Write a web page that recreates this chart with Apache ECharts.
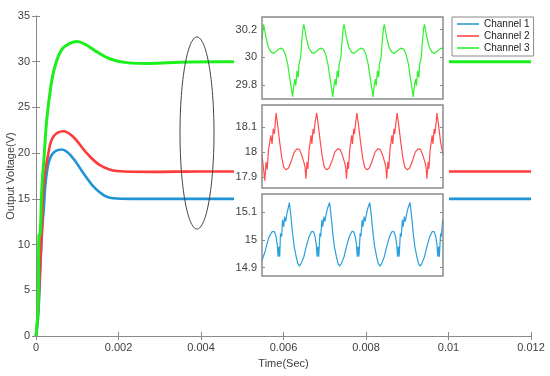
<!DOCTYPE html>
<html>
<head>
<meta charset="utf-8">
<script src="https://cdn.jsdelivr.net/npm/echarts@6/dist/echarts.min.js"></script>
<style>
html,body{margin:0;padding:0;background:#fff;}
#chart{width:550px;height:376px;}
</style>
</head>
<body>
<div id="chart"></div>
<script>
// ---------- DATA ----------
const channelNames = ['Channel 1', 'Channel 2', 'Channel 3'];
const xTickValues = [0, 0.002, 0.004, 0.006, 0.008, 0.01, 0.012];
const yTickValues = [0, 5, 10, 15, 20, 25, 30, 35];
const ch3ZoomTicks = [29.8, 30, 30.2];
const ch2ZoomTicks = [17.9, 18, 18.1];
const ch1ZoomTicks = [14.9, 15, 15.1];

// main response [time (s), voltage (V)]
const ch1Main = [[0,0],[0.00005,2],[0.0001,6.9],[0.00014,10.9],[0.00019,14.1],[0.00026,17.8],[0.00038,19.8],[0.00062,20.4],[0.00087,19.6],[0.00115,17.8],[0.00147,16],[0.00187,15.06],[0.0023,15.0],[0.0035,15.0],[0.012,15.0]];
const ch2Main = [[0,0],[0.00005,2.8],[0.0001,7.6],[0.00014,11.2],[0.00019,16.7],[0.0003,20],[0.00042,21.8],[0.00066,22.4],[0.0009,21.8],[0.00123,20],[0.00155,18.7],[0.00196,18.05],[0.0028,17.95],[0.004,18],[0.012,18]];
const ch3Main = [[0,0],[0.00005,3.2],[0.00007,11],[0.0001,11.2],[0.00014,16],[0.00019,19.2],[0.00026,23.6],[0.00036,27.3],[0.00046,29.5],[0.00062,31.3],[0.00082,32.0],[0.001,32.2],[0.00123,31.8],[0.00147,31.1],[0.0018,30.3],[0.0022,29.9],[0.00276,29.8],[0.0035,29.95],[0.0045,30.0],[0.012,30.0]];

// zoomed steady-state ripple [time (us), voltage (V)]
const ch3Zoom = [[0,30.13],
[4,30.238],[10,30.143],[16,30.071],[23,30.036],[29,30.029],[37,30.048],[45,30.067],[52,30.060],[58,30.024],[64,29.952],[68,29.869],[72,29.798],[76,29.719],[79,29.798],[82,29.845],[84,29.798],[87,29.905],[90,29.857],[92,29.952],[96,30.0],[99,30.119],[102,30.21],
[104,30.238],[110,30.143],[116,30.071],[123,30.036],[129,30.029],[137,30.048],[145,30.067],[152,30.060],[158,30.024],[164,29.952],[168,29.869],[172,29.798],[176,29.716],[179,29.798],[182,29.845],[184,29.798],[187,29.905],[190,29.857],[192,29.952],[196,30.0],[199,30.119],[202,30.21],
[204,30.238],[210,30.143],[216,30.071],[223,30.036],[229,30.029],[237,30.048],[245,30.067],[252,30.060],[258,30.024],[264,29.952],[268,29.869],[272,29.798],[276,29.716],[279,29.798],[282,29.845],[284,29.798],[287,29.905],[290,29.857],[292,29.952],[296,30.0],[299,30.119],[302,30.21],
[304,30.238],[310,30.143],[316,30.071],[323,30.036],[329,30.029],[337,30.048],[345,30.067],[352,30.060],[358,30.024],[364,29.952],[368,29.869],[372,29.798],[376,29.716],[379,29.798],[382,29.845],[384,29.798],[387,29.905],[390,29.857],[392,29.952],[396,30.0],[399,30.119],[402,30.21],
[404,30.238],[410,30.143],[416,30.071],[423,30.036],[429,30.029],[437,30.048],[445,30.067],[450,30.062]];

const ch2Zoom = [[0,17.99],[4,17.93],[7,17.885],[10,17.96],[13,17.93],[16,18.007],[19,18.0],[22,18.067],[25,18.033],[28,18.093],[31,18.073],[33,18.12],
[35,18.157],[39,18.107],[44,18.04],[49,17.98],[54,17.94],[60,17.929],[66,17.936],[72,17.96],[80,18.0],[87,18.013],[93,18.011],[99,17.987],[104,17.96],[107,17.94],[109,17.893],[112,17.96],[114,17.933],[117,18.007],[119,18.0],[122,18.067],[124,18.033],[127,18.093],[129,18.073],[132,18.12],
[136,18.157],[140,18.107],[145,18.04],[150,17.98],[155,17.94],[161,17.929],[167,17.936],[173,17.96],[181,18.0],[188,18.013],[194,18.011],[200,17.987],[205,17.96],[208,17.94],[210,17.893],[213,17.96],[215,17.933],[218,18.007],[220,18.0],[223,18.067],[225,18.033],[228,18.093],[230,18.073],[233,18.12],
[236,18.157],[240,18.107],[245,18.04],[250,17.98],[255,17.94],[261,17.929],[267,17.936],[273,17.96],[281,18.0],[288,18.013],[294,18.011],[300,17.987],[305,17.96],[308,17.94],[310,17.893],[313,17.96],[315,17.933],[318,18.007],[320,18.0],[323,18.067],[325,18.033],[328,18.093],[330,18.073],[333,18.12],
[336,18.157],[340,18.107],[345,18.04],[350,17.98],[355,17.94],[361,17.929],[367,17.936],[373,17.96],[381,18.0],[388,18.013],[394,18.011],[400,17.987],[405,17.96],[408,17.94],[410,17.893],[413,17.96],[415,17.933],[418,18.007],[420,18.0],[423,18.067],[425,18.033],[428,18.093],[430,18.073],[433,18.12],
[435,18.157],[439,18.107],[444,18.04],[450,17.99]];

const ch1Zoom = [[0,14.925],[8,14.96],[16,15.006],[25,15.03],[31,15.03],[35,15.012],[38,14.982],[40,14.939],[42,14.976],[44,14.939],[46,15.024],[49,15.012],[51,15.073],[54,15.048],[56,15.085],[59,15.067],[62,15.097],[65,15.115],
[68,15.136],[72,15.085],[76,15.024],[80,14.976],[85,14.939],[89,14.915],[93,14.905],[97,14.913],[104,14.939],[110,14.976],[117,15.012],[123,15.03],[128,15.03],[132,15.012],[135,14.982],[137,14.939],[139,14.976],[141,14.939],[144,15.024],[146,15.012],[149,15.073],[151,15.048],[154,15.085],[156,15.067],[160,15.097],[163,15.115],
[168,15.136],[172,15.085],[176,15.024],[180,14.976],[185,14.939],[189,14.915],[193,14.905],[197,14.913],[204,14.939],[210,14.976],[217,15.012],[223,15.03],[228,15.03],[232,15.012],[235,14.982],[237,14.939],[239,14.976],[241,14.939],[244,15.024],[246,15.012],[249,15.073],[251,15.048],[254,15.085],[256,15.067],[260,15.097],[263,15.115],
[268,15.136],[272,15.085],[276,15.024],[280,14.976],[285,14.939],[289,14.915],[293,14.905],[297,14.913],[304,14.939],[310,14.976],[317,15.012],[323,15.03],[328,15.03],[332,15.012],[335,14.982],[337,14.939],[339,14.976],[341,14.939],[344,15.024],[346,15.012],[349,15.073],[351,15.048],[354,15.085],[356,15.067],[360,15.097],[363,15.115],
[368,15.136],[372,15.085],[376,15.024],[380,14.976],[385,14.939],[389,14.915],[393,14.905],[397,14.913],[404,14.939],[410,14.976],[417,15.012],[423,15.03],[428,15.03],[432,15.012],[435,14.982],[437,14.939],[439,14.976],[441,14.939],[444,15.024],[446,15.012],[449,15.073],[450,15.06]];

// ---------- STYLE / LAYOUT ----------
const FONT = '"Liberation Sans", Arial, Helvetica, sans-serif';
const AX = '#8a8a8a';
const TXT = '#404040';
const colBlue = '#1f93d4', colRed = '#ff3a3a', colGreen = '#1cf01c';
const colBlueZ = '#2aa0dc', colRedZ = '#ff4c4c', colGreenZ = '#2ef22e';

const main = {left: 36, top: 16, width: 495, height: 320};
const insets = [
  {left: 262, top: 17, width: 181, height: 82, min: 29.702, max: 30.29, ticks: ch3ZoomTicks, data: ch3Zoom, color: colGreenZ},
  {left: 262, top: 105, width: 181, height: 83, min: 17.856, max: 18.189, ticks: ch2ZoomTicks, data: ch2Zoom, color: colRedZ},
  {left: 262, top: 194, width: 181, height: 82, min: 14.869, max: 15.167, ticks: ch1ZoomTicks, data: ch1Zoom, color: colBlueZ}
];

const grids = [main].concat(insets).map(g => ({left: g.left, top: g.top, width: g.width, height: g.height, containLabel: false, outerBoundsMode: 'none'}));

const xAxes = [
  {gridIndex: 0, type: 'value', min: 0, max: 0.012, position: 'bottom',
   name: 'Time(Sec)', nameLocation: 'middle', nameGap: 22, nameMoveOverlap: false,
   nameTextStyle: {fontFamily: FONT, fontSize: 11, color: TXT},
   axisLine: {show: true, lineStyle: {color: AX, width: 1}},
   axisTick: {show: true, inside: true, length: 4, customValues: xTickValues, lineStyle: {color: AX}},
   axisLabel: {customValues: xTickValues, fontFamily: FONT, fontSize: 11, color: TXT, margin: 6, formatter: v => String(+(+v).toFixed(4))},
   splitLine: {show: false}},
  {gridIndex: 0, type: 'value', min: 0, max: 0.012, position: 'top',
   axisLine: {show: true, lineStyle: {color: AX, width: 1}},
   axisTick: {show: true, inside: true, length: 4, customValues: xTickValues, lineStyle: {color: AX}},
   axisLabel: {show: false}, splitLine: {show: false}}
];
const yAxes = [
  {gridIndex: 0, type: 'value', min: 0, max: 35, position: 'left',
   name: 'Output Voltage(V)', nameLocation: 'middle', nameGap: 20, nameRotate: 90, nameMoveOverlap: false,
   nameTextStyle: {fontFamily: FONT, fontSize: 11, color: TXT},
   axisLine: {show: true, lineStyle: {color: AX, width: 1}},
   axisTick: {show: true, inside: true, length: 4, customValues: yTickValues, lineStyle: {color: AX}},
   axisLabel: {customValues: yTickValues, fontFamily: FONT, fontSize: 11, color: TXT, margin: 6},
   splitLine: {show: false}},
  {gridIndex: 0, type: 'value', min: 0, max: 35, position: 'right',
   axisLine: {show: true, lineStyle: {color: AX, width: 1}},
   axisTick: {show: true, inside: true, length: 4, customValues: yTickValues, lineStyle: {color: AX}},
   axisLabel: {show: false}, splitLine: {show: false}}
];

const series = [
  {name: channelNames[0], type: 'line', xAxisIndex: 0, yAxisIndex: 0, data: ch1Main, showSymbol: false, symbol: 'none', smooth: 0.4, lineStyle: {color: colBlue, width: 2.6}, itemStyle: {color: colBlue}, z: 2},
  {name: channelNames[1], type: 'line', xAxisIndex: 0, yAxisIndex: 0, data: ch2Main, showSymbol: false, symbol: 'none', smooth: 0.4, lineStyle: {color: colRed, width: 2.6}, itemStyle: {color: colRed}, z: 2},
  {name: channelNames[2], type: 'line', xAxisIndex: 0, yAxisIndex: 0, data: ch3Main, showSymbol: false, symbol: 'none', smooth: 0.4, lineStyle: {color: colGreen, width: 3}, itemStyle: {color: colGreen}, z: 2}
];

const frames = [];
insets.forEach((g, i) => {
  const gi = i + 1;
  xAxes.push({gridIndex: gi, type: 'value', min: 0, max: 450, show: true,
    axisLine: {show: false}, axisTick: {show: false}, axisLabel: {show: false}, splitLine: {show: false}, z: 20});
  yAxes.push({gridIndex: gi, type: 'value', min: g.min, max: g.max, position: 'left', z: 20,
    axisLine: {show: false},
    axisTick: {show: true, inside: true, length: 3, customValues: g.ticks, lineStyle: {color: AX}},
    axisLabel: {customValues: g.ticks, fontFamily: FONT, fontSize: 11, color: TXT, margin: 5},
    splitLine: {show: false}});
  yAxes.push({gridIndex: gi, type: 'value', min: g.min, max: g.max, position: 'right', z: 20,
    axisLine: {show: false},
    axisTick: {show: true, inside: true, length: 3, customValues: g.ticks, lineStyle: {color: AX}},
    axisLabel: {show: false}, splitLine: {show: false}});
  series.push({name: channelNames[2 - i] + ' ripple', type: 'line', xAxisIndex: 2 + i, yAxisIndex: 2 + 2 * i,
    data: g.data, showSymbol: false, symbol: 'none', lineStyle: {color: g.color, width: 1.2}, itemStyle: {color: g.color}, z: 20});
  frames.push({type: 'rect', z: 25, silent: true,
    shape: {x: g.left, y: g.top, width: g.width, height: g.height},
    style: {fill: 'none', stroke: AX, lineWidth: 1.5}});
});

const option = {
  backgroundColor: '#fff',
  animation: false,
  grid: grids,
  xAxis: xAxes,
  yAxis: yAxes,
  legend: {
    data: channelNames, orient: 'vertical', left: 452, top: 17,
    itemWidth: 22, itemHeight: 1.5, itemGap: 2, icon: 'rect',
    padding: [2, 4, 3, 5], borderColor: AX, borderWidth: 1, backgroundColor: '#fff',
    textStyle: {fontFamily: FONT, fontSize: 10, color: '#222'}, z: 30
  },
  graphic: [
    {type: 'rect', z: 10, silent: true, shape: {x: 234, y: 17, width: 215, height: 264}, style: {fill: '#fff'}},
    {type: 'ellipse', z: 30, silent: true, shape: {cx: 197, cy: 133, rx: 17, ry: 96}, style: {fill: 'none', stroke: '#444', lineWidth: 1}}
  ].concat(frames),
  series: series
};

const chart = echarts.init(document.getElementById('chart'), null, {renderer: 'canvas'});
chart.setOption(option);
</script>
</body>
</html>
